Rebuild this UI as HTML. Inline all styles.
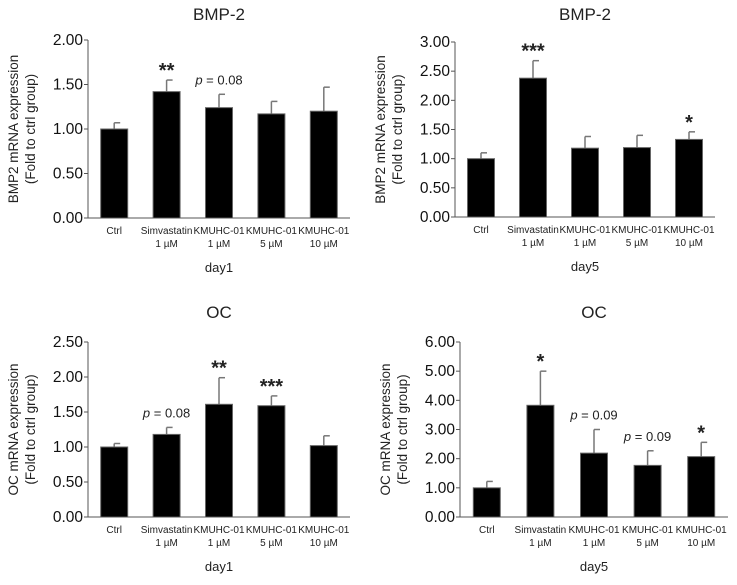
<!DOCTYPE html>
<html><head><meta charset="utf-8"><style>
body{margin:0;background:#fff;}
svg text{font-family:"Liberation Sans",sans-serif;fill:#222;}
</style></head><body>
<svg id="c" width="737" height="580" xmlns="http://www.w3.org/2000/svg"></svg>
<script>
const categories1 = ["Ctrl","Simvastatin","KMUHC-01","KMUHC-01","KMUHC-01"];
const categories2 = ["","1 µM","1 µM","5 µM","10 µM"];
const bmpDay1 = [1.00,1.42,1.24,1.17,1.20];
const bmpDay1Err = [0.07,0.13,0.15,0.14,0.27];
const bmpDay5 = [1.00,2.38,1.18,1.19,1.33];
const bmpDay5Err = [0.10,0.30,0.20,0.21,0.13];
const ocDay1 = [1.00,1.18,1.61,1.59,1.02];
const ocDay1Err = [0.05,0.10,0.38,0.14,0.14];
const ocDay5 = [1.00,3.83,2.19,1.77,2.07];
const ocDay5Err = [0.22,1.17,0.81,0.50,0.49];
const ticksBmp1 = ["0.00","0.50","1.00","1.50","2.00"];
const ticksBmp5 = ["0.00","0.50","1.00","1.50","2.00","2.50","3.00"];
const ticksOc1 = ["0.00","0.50","1.00","1.50","2.00","2.50"];
const ticksOc5 = ["0.00","1.00","2.00","3.00","4.00","5.00","6.00"];
const annBmp1 = ["","**","p = 0.08","",""];
const annBmp5 = ["","***","","","*"];
const annOc1 = ["","p = 0.08","**","***",""];
const annOc5 = ["","*","p = 0.09","p = 0.09","*"];

const svg=document.getElementById('c');
const NS="http://www.w3.org/2000/svg";
function mk(tag,attrs,parent,txt){const e=document.createElementNS(NS,tag);for(const k in attrs)e.setAttribute(k,attrs[k]);if(txt!==undefined)e.textContent=txt;parent.appendChild(e);return e;}

function panel(o){
  const g=mk('g',{},svg);
  
  
  const max=parseFloat(o.ticks[o.ticks.length-1]);
  const y=v=>o.y0-(v/max)*(o.y0-o.yTop);
  const step=(o.x1-o.x0)/5;
  const xc=i=>o.x0+step*(i+0.5);
  const t=mk('text',{x:(o.x0+o.x1)/2,y:o.titleY,'text-anchor':'middle','font-size':17},g,o.title);
  
  o.ticks.forEach(tk=>{
    const v=parseFloat(tk);
    const l=mk('text',{x:o.x0-5,y:y(v)+5,'text-anchor':'end','font-size':15.5,style:'fill:#111'},g,tk);
    
    mk('line',{x1:o.x0-4,x2:o.x0,y1:y(v),y2:y(v),stroke:'#555'},g);
  });
  const yt=mk('text',{transform:`translate(${o.x0-70},${(o.y0+o.yTop)/2}) rotate(-90)`,'text-anchor':'middle','font-size':13.5},g);
  
  mk('tspan',{x:0,dy:0},yt,o.ylab);
  mk('tspan',{x:0,dy:17},yt,'(Fold to ctrl group)');
  o.vals.forEach((v,i)=>{
    const bw=27;
    const top=y(v+o.err[i]);
    const eb=mk('line',{x1:xc(i),x2:xc(i),y1:y(v),y2:top,stroke:'#777','stroke-width':1.5},g);
    
    mk('line',{x1:xc(i),x2:xc(i)+6,y1:top,y2:top,stroke:'#777','stroke-width':1.5},g);
    const r=mk('rect',{x:xc(i)-bw/2,y:y(v),width:bw,height:o.y0-y(v),fill:'#000',stroke:'#666','stroke-width':1},g);
    
    const c1=mk('text',{x:xc(i),y:o.y0+16,'text-anchor':'middle','font-size':10},g,categories1[i]);
    
    if(categories2[i]){mk('text',{x:xc(i),y:o.y0+29,'text-anchor':'middle','font-size':10},g,categories2[i]);}
    const a=o.ann[i];
    if(a){
      const isP=a.startsWith('p');
      const an=mk('text',{x:xc(i),y:isP?top-10:top-3,'text-anchor':'middle','font-size':isP?13:20,'font-weight':isP?'normal':'bold'},g);
      
      if(isP){mk('tspan',{'font-style':'italic'},an,'p');mk('tspan',{},an,a.slice(1));}
      else an.textContent=a;
    }
  });
  mk('line',{x1:o.x0,x2:o.x0,y1:o.yTop,y2:o.y0,stroke:'#555'},g);
  mk('line',{x1:o.x0,x2:o.x1,y1:o.y0,y2:o.y0,stroke:'#555'},g);
  const xl=mk('text',{x:(o.x0+o.x1)/2,y:o.y0+54,'text-anchor':'middle','font-size':13},g,o.xlab);
  
}
panel({name:'bmp2-day1-chart',title:'BMP-2',titleY:20,x0:88,x1:350,yTop:40,y0:218,ticks:ticksBmp1,vals:bmpDay1,err:bmpDay1Err,ann:annBmp1,ylab:'BMP2 mRNA expression',xlab:'day1'});
panel({name:'bmp2-day5-chart',title:'BMP-2',titleY:20,x0:455,x1:715,yTop:42,y0:217,ticks:ticksBmp5,vals:bmpDay5,err:bmpDay5Err,ann:annBmp5,ylab:'BMP2 mRNA expression',xlab:'day5'});
panel({name:'oc-day1-chart',title:'OC',titleY:318,x0:88,x1:350,yTop:342,y0:517,ticks:ticksOc1,vals:ocDay1,err:ocDay1Err,ann:annOc1,ylab:'OC mRNA expression',xlab:'day1'});
panel({name:'oc-day5-chart',title:'OC',titleY:318,x0:460,x1:728,yTop:342,y0:517,ticks:ticksOc5,vals:ocDay5,err:ocDay5Err,ann:annOc5,ylab:'OC mRNA expression',xlab:'day5'});
</script>
</body></html>
